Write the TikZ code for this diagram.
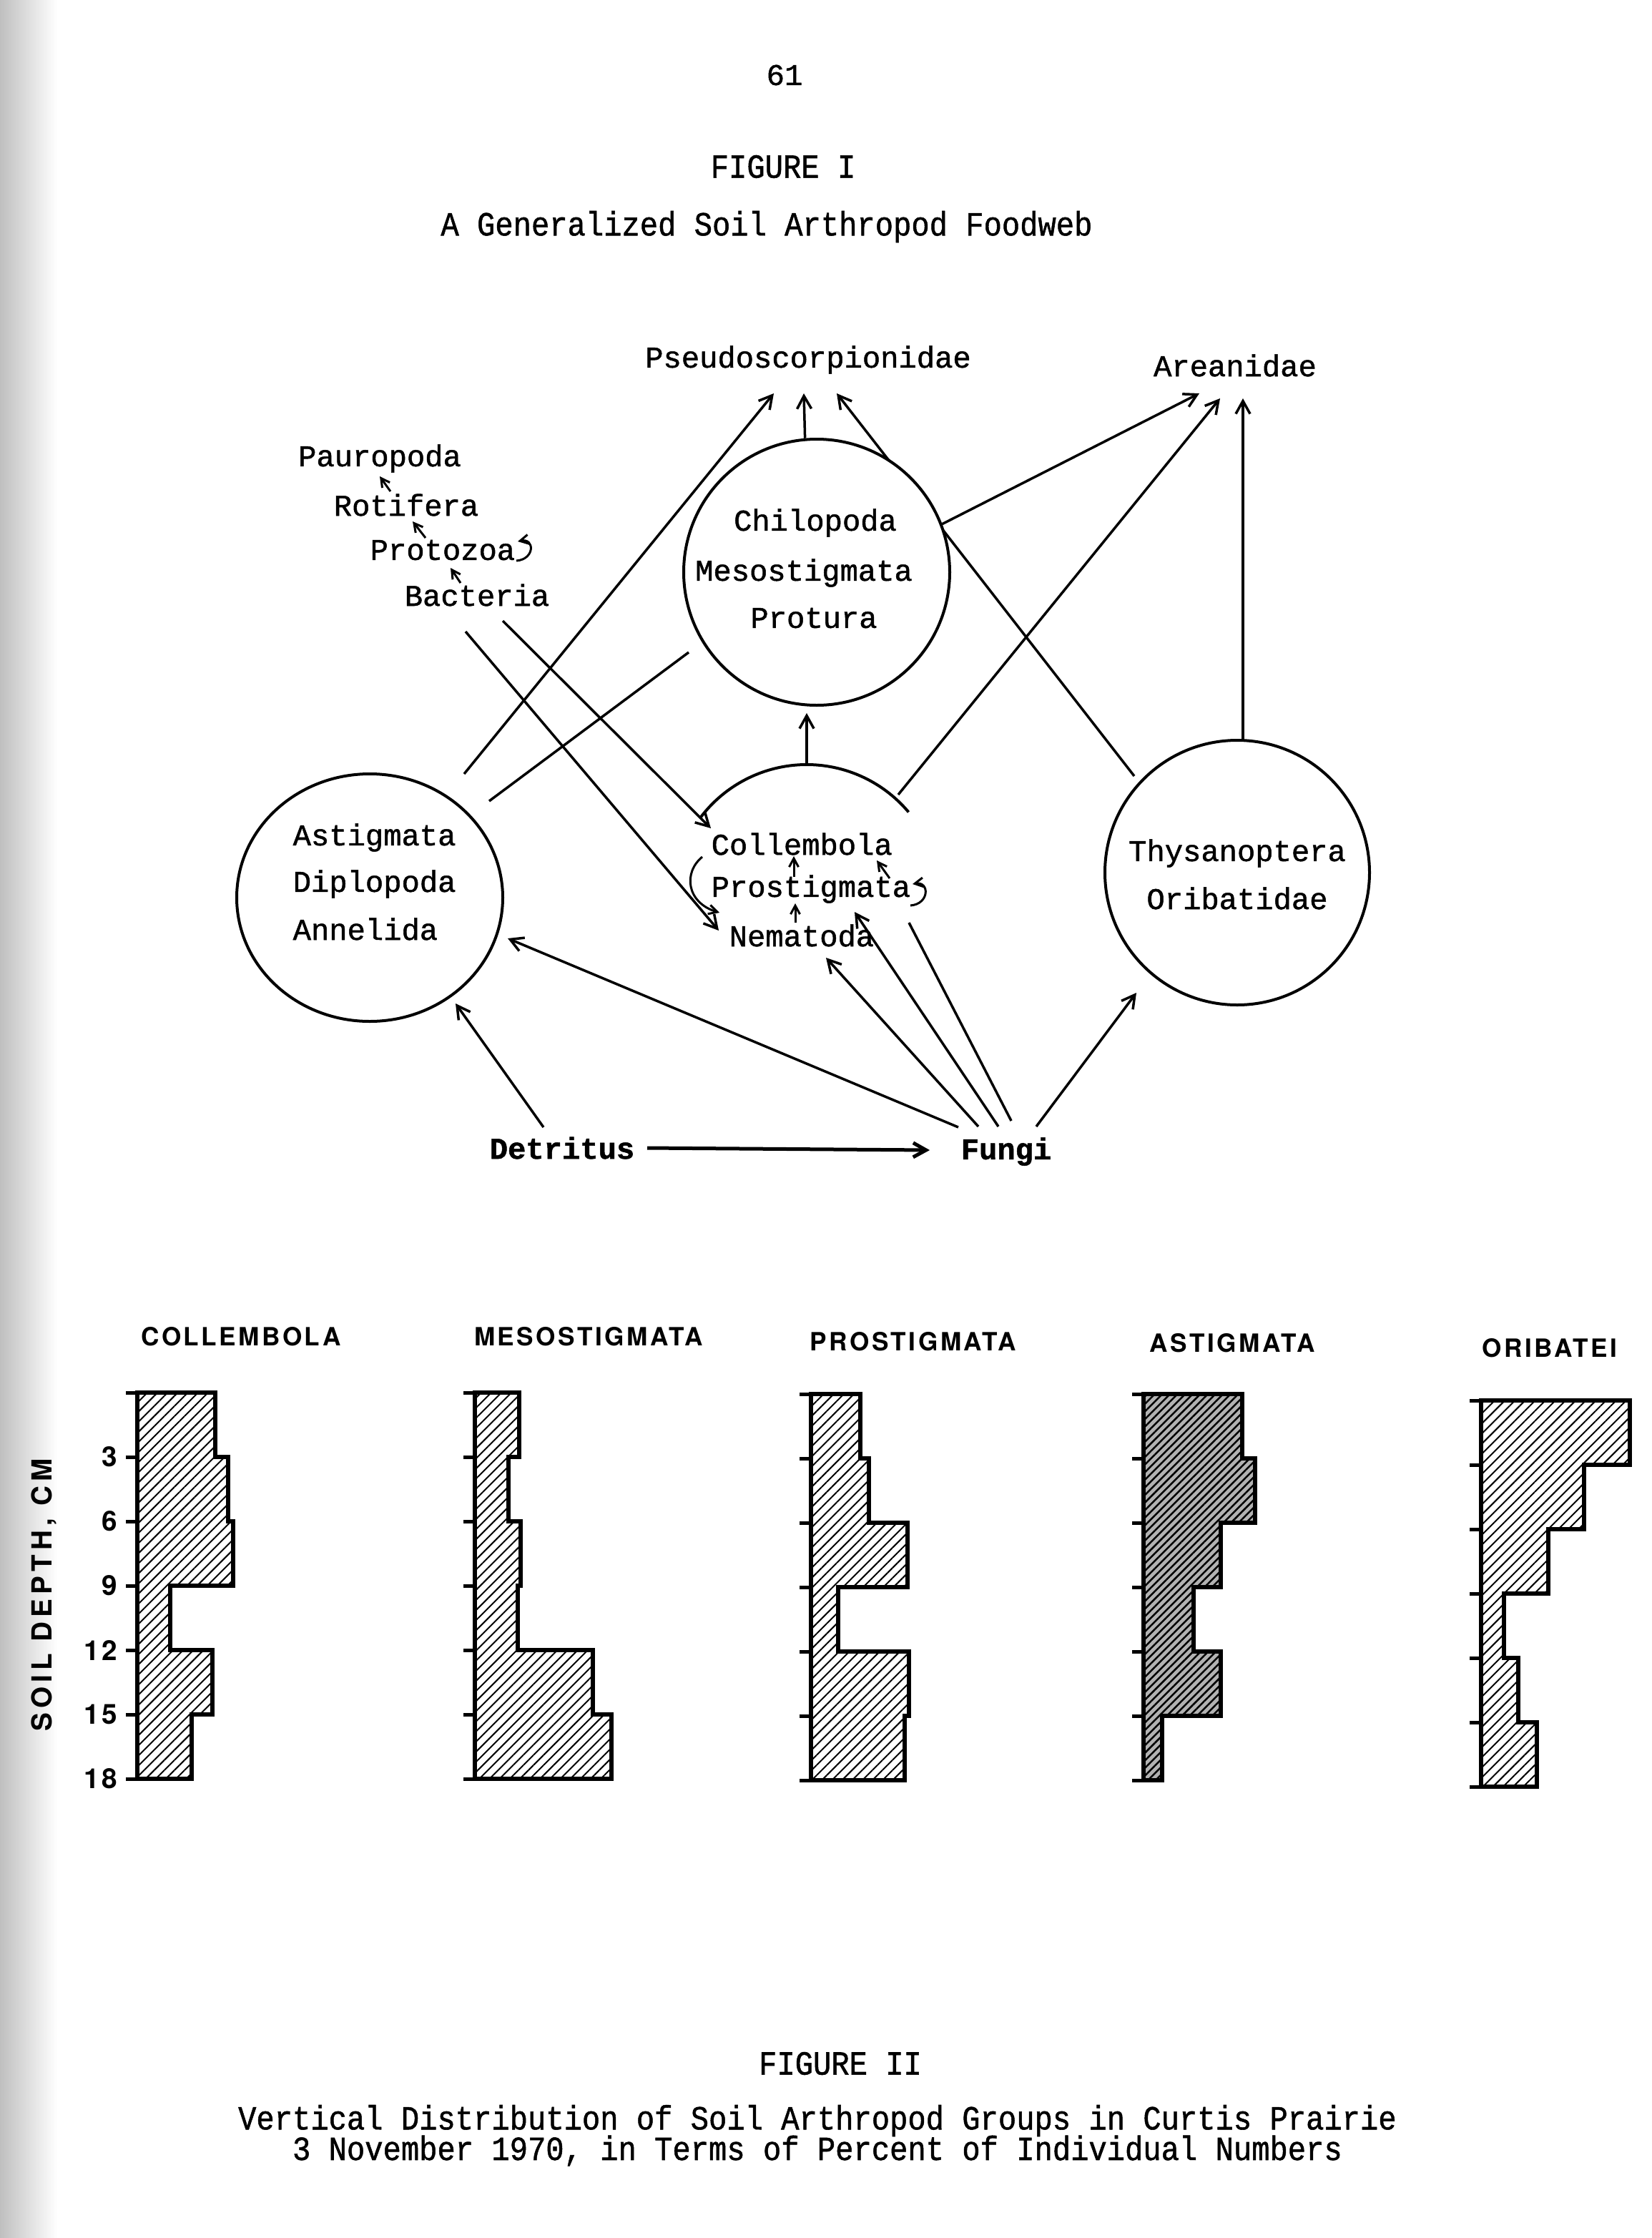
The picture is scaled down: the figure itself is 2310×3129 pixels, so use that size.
\documentclass[tikz,border=0pt]{standalone}
\usepackage{fontspec}
\usepackage{graphicx}
\setmainfont{Liberation Mono}
\newfontfamily\twfont[FakeBold=1.2]{Liberation Mono}
\newfontfamily\sansb[LetterSpace=10]{TeX Gyre Heros}
\newfontfamily\sansbb[LetterSpace=16]{TeX Gyre Heros}
\usetikzlibrary{arrows.meta,patterns.meta,shapes.geometric}
\pgfdeclarelayer{bg}
\pgfsetlayers{bg,main}
\newcommand\tall[1]{\scalebox{1}[1.12]{#1}}
\tikzset{
  lab/.style={font={\twfont\fontsize{12}{14}\selectfont}, inner sep=0pt},
  labb/.style={font={\twfont\bfseries\fontsize{12}{14}\selectfont}, inner sep=0pt},
  circ/.style={circle, draw, fill=white, line width=0.4mm, inner sep=0pt},
  ln/.style={line width=0.35mm},
  arr/.style={line width=0.35mm, -{Straight Barb[length=1.8mm,width=2mm]}},
  sarr/.style={line width=0.3mm, -{Straight Barb[length=1.2mm,width=1.3mm]}},
  hlab/.style={font={\sansb\bfseries\fontsize{10}{12}\selectfont}, inner sep=0pt},
  ticklab/.style={font={\sansb\bfseries\fontsize{11}{13}\selectfont}, inner sep=0pt},
  barline/.style={line width=0.55mm, line join=miter},
  tickl/.style={line width=0.5mm},
}
% #1 style, #2 axis x, #3 top y, #4-#9 right edges of the six 3 cm bands
\newcommand\histo[9]{%
  \path[barline,draw,#1] (#2,#3) -- (#4,#3) -- (#4,#3+90) -- (#5,#3+90) -- (#5,#3+180)
    -- (#6,#3+180) -- (#6,#3+270) -- (#7,#3+270) -- (#7,#3+360) -- (#8,#3+360)
    -- (#8,#3+450) -- (#9,#3+450) -- (#9,#3+540) -- (#2,#3+540) -- cycle;
  \foreach \k in {0,...,6}{\draw[tickl] (#2-16,#3+90*\k) -- (#2,#3+90*\k);}
}
\begin{document}
\begin{tikzpicture}[x=0.1mm,y=-0.1mm]
\useasboundingbox (0,0) rectangle (2310,3129);
\begin{pgfonlayer}{bg}
  \fill[white] (0,0) rectangle (2310,3129);
  \shade[left color=black!25, right color=white] (0,0) rectangle (80,3129);
\end{pgfonlayer}

% ---------- headings ----------
\node[lab] (n61) at (1097,105) {61};
\node[lab] (fig1) at (1095,233) {\tall{FIGURE I}};
\node[lab] (title1) at (1072,317) {\tall{A Generalized Soil Arthropod Foodweb}};

% ---------- foodweb circles ----------
\node[circ, minimum size=37.2mm] (chil) at (1142,800) {};
\node[circ, minimum size=37mm] (thys) at (1730,1220) {};
\node[ellipse, draw, fill=white, line width=0.4mm, inner sep=0pt,
      minimum width=37.2mm, minimum height=34.6mm] (astc) at (517,1255) {};
\coordinate (collc) at (1128,1255);
\draw[line width=0.4mm] ([shift={(-40:186)}]collc) arc[start angle=-40, end angle=-143, radius=186];

% ---------- foodweb labels ----------
\node[lab] (pseudo) at (1130,503) {Pseudoscorpionidae};
\node[lab] (arean) at (1727,511) {Areanidae};
\node[lab] (paur) at (531,641) {Pauropoda};
\node[lab] (roti) at (568,706) {Rotifera};
\node[lab, anchor=west] (proto) at (517,769) {Protozoa};
\node[lab] (bact) at (667,832) {Bacteria};
\node[lab] (chilo) at (1140,731) {Chilopoda};
\node[lab] (meso) at (1124,801) {Mesostigmata};
\node[lab] (protu) at (1138,864) {Protura};
\node[lab, anchor=west] (colle) at (994,1180) {Collembola};
\node[lab, anchor=west] (prost) at (994,1243) {Prostigmata};
\node[lab, anchor=west] (nema) at (1019,1308) {Nematoda};
\node[lab, anchor=west] (astig) at (409,1171) {Astigmata};
\node[lab, anchor=west] (diplo) at (409,1236) {Diplopoda};
\node[lab, anchor=west] (anne) at (409,1299) {Annelida};
\node[lab] (thysa) at (1730,1193) {Thysanoptera};
\node[lab] (oriba) at (1730,1256) {Oribatidae};
\node[labb] (detr) at (786,1605) {Detritus};
\node[labb] (fungi) at (1407,1610) {Fungi};

% ---------- connector end points ----------
\coordinate (pA) at (1082,550);
\coordinate (pB) at (1124,550);
\coordinate (pC) at (1170,550);
\coordinate (aA) at (1677,550);
\coordinate (aB) at (1706,557);
\coordinate (aC) at (1738,557);
\coordinate (astTop) at (649,1082);
\coordinate (thysTL) at (1586,1085);
\coordinate (collTR) at (1256,1111);
\coordinate (thysTop) at (1738,1036);
\coordinate (collTop) at (1128,1069);
\coordinate (chilBot) at (1128,997);
\coordinate (chilLL) at (963,912);
\coordinate (astTR) at (684,1120);
\coordinate (bactA) at (703,868);
\coordinate (bactB) at (651,883);
\coordinate (collL) at (994,1158);
\coordinate (nemaL) at (1005,1301);
\coordinate (detrT) at (760,1576);
\coordinate (astBR) at (637,1403);
\coordinate (fuA) at (1340,1576);
\coordinate (astR) at (710,1312);
\coordinate (fuB) at (1368,1575);
\coordinate (nemaB) at (1155,1339);
\coordinate (fuC) at (1396,1575);
\coordinate (prostB) at (1195,1275);
\coordinate (fuD) at (1414,1567);
\coordinate (collBR) at (1271,1290);
\coordinate (fuE) at (1449,1575);
\coordinate (thysBL) at (1589,1388);
\coordinate (detrR) at (905,1605);
\coordinate (fungL) at (1300,1608);

\begin{pgfonlayer}{bg}
  \draw[arr] (astTop) -- (pA);
  \draw[arr] (chil.95.5) -- (pB);
  \draw[arr] (thysTL) -- (pC);
  \draw[arr] (chil.21) -- (aA);
  \draw[arr] (collTR) -- (aB);
  \draw[arr] (thysTop) -- (aC);
  \draw[arr] (collTop) -- (chilBot);
  \draw[ln] (chilLL) -- (astTR);
  \draw[arr] (bactA) -- (collL);
  \draw[arr] (bactB) -- (nemaL);
  \draw[arr] (detrT) -- (astBR);
  \draw[arr] (fuA) -- (astR);
  \draw[arr] (fuB) -- (nemaB);
  \draw[arr] (fuC) -- (prostB);
  \draw[ln] (fuD) -- (collBR);
  \draw[arr] (fuE) -- (thysBL);
  \draw[arr, line width=0.5mm] (detrR) -- (fungL);
\end{pgfonlayer}

% small arrows in the left list
\coordinate (rotT) at (546,687);   \coordinate (paurB) at (531,666);
\coordinate (protT) at (595,752);  \coordinate (rotB) at (577,729);
\coordinate (bactT) at (644,815);  \coordinate (protB) at (630,794);
\draw[sarr] (rotT) -- (paurB);
\draw[sarr] (protT) -- (rotB);
\draw[sarr] (bactT) -- (protB);
\coordinate (plA) at (722,784); \coordinate (plB) at (724,757);
\draw[sarr] (plA) .. controls (748,782) and (748,752) .. (plB);

% small arrows inside the Collembola group
\coordinate (prT) at (1110,1226); \coordinate (coB) at (1110,1197);
\coordinate (neT) at (1112,1290); \coordinate (prB) at (1112,1263);
\coordinate (prR) at (1244,1228); \coordinate (coR) at (1226,1203);
\draw[sarr] (prT) -- (coB);
\draw[sarr] (neT) -- (prB);
\draw[sarr] (prR) -- (coR);
\coordinate (slA) at (1273,1266); \coordinate (slB) at (1276,1236);
\draw[sarr] (slA) .. controls (1300,1264) and (1300,1232) .. (slB);
\coordinate (cuA) at (982,1198); \coordinate (cuB) at (1006,1276);
\draw[sarr] (cuA) .. controls (955,1220) and (960,1262) .. (cuB);

% ---------- Figure II histograms ----------
\node[hlab] (hcol) at (337,1869) {COLLEMBOLA};
\node[hlab] (hmes) at (823,1869) {MESOSTIGMATA};
\node[hlab] (hpro) at (1277,1876) {PROSTIGMATA};
\node[hlab] (hast) at (1723,1878) {ASTIGMATA};
\node[hlab] (hori) at (2167,1885) {ORIBATEI};

\histo{pattern={Lines[angle=45,distance=1mm,line width=0.2mm]}}{192}{1947}{301}{319}{326}{238}{297}{268}
\histo{pattern={Lines[angle=45,distance=1mm,line width=0.2mm]}}{664}{1947}{726}{711}{728}{724}{829}{855}
\histo{pattern={Lines[angle=45,distance=1mm,line width=0.2mm]}}{1134}{1949}{1203}{1215}{1269}{1172}{1271}{1265}
\histo{preaction={fill=black!30},pattern={Lines[angle=45,distance=0.75mm,line width=0.25mm]}}{1599}{1949}{1737}{1755}{1707}{1669}{1707}{1625}
\histo{pattern={Lines[angle=45,distance=1mm,line width=0.2mm]}}{2071}{1958}{2279}{2215}{2165}{2103}{2123}{2149}

\foreach \d/\t in {1/3,2/6,3/9,4/12,5/15,6/18}
  \node[ticklab, anchor=east] (tk\d) at (165,1947+90*\d) {\t};
\node[rotate=90, font={\sansbb\bfseries\fontsize{11}{13}\selectfont}, inner sep=0pt] (sdl) at (62,2230) {SOIL DEPTH, CM};

% ---------- Figure II captions ----------
\node[lab] (fig2) at (1175,2885) {\tall{FIGURE II}};
\node[lab] (capa) at (1143,2965) {\tall{Vertical Distribution of Soil Arthropod Groups in Curtis Prairie}};
\node[lab] (capb) at (1143,3007) {\tall{3 November 1970, in Terms of Percent of Individual Numbers}};
\end{tikzpicture}
\end{document}
